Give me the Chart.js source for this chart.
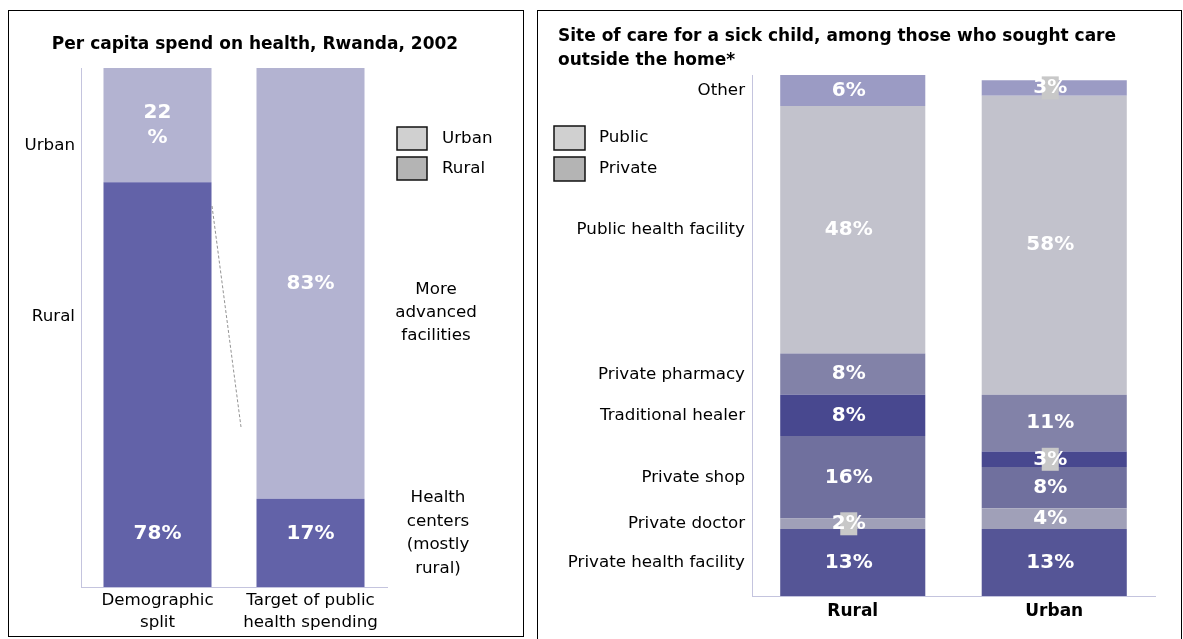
<!DOCTYPE html>
<html>
<head>
<meta charset="utf-8">
<title>Rwanda health spending and site of care</title>
<script src="https://cdn.jsdelivr.net/npm/chart.js@4.4.1/dist/chart.umd.min.js"></script>
<style>
  body { margin: 0; background: #fff; width: 1183px; height: 639px; overflow: hidden; position: relative; }
  .panel { position: absolute; border: 1px solid #000; box-sizing: border-box; }
  #spendPanel { left: 8px; top: 10px; width: 516px; height: 627px; }
  #carePanel { left: 537px; top: 10px; width: 645px; height: 640px; }
  .panel canvas { position: absolute; left: 0; top: 0; }
</style>
</head>
<body>
<div class="panel" id="spendPanel"><canvas id="spendChart" width="514" height="625"></canvas></div>
<div class="panel" id="carePanel"><canvas id="careChart" width="643" height="628"></canvas></div>
<script>
// per capita spend: population split vs. where public money goes
const sides = ['Demographic split', 'Target of public health spending'];
const sideLines = [['Demographic', 'split'], ['Target of public', 'health spending']];
const urbanShare = [22, 83];
const ruralShare = [78, 17];

// where a sick child was taken, stacked bottom to top
const areas = ['Rural', 'Urban'];
const careSites = ['Private health facility', 'Private doctor', 'Private shop', 'Traditional healer',
  'Private pharmacy', 'Public health facility', 'Other'];
const ruralCare = [13, 2, 16, 8, 8, 48, 6];
const urbanCare = [13, 4, 8, 3, 11, 58, 3];

const FONT = '"DejaVu Sans", Verdana, sans-serif';
const axisColor = '#c4c4de';
const careColors = ['#555596', '#a0a0b8', '#70709e', '#48488f', '#8282a8', '#c2c2cc', '#9b9bc4'];

function hiddenAxis(extra) {
  return Object.assign({
    stacked: true,
    ticks: { display: false },
    grid: { display: false, drawTicks: false },
    border: { color: axisColor, width: 1 }
  }, extra || {});
}

function legendBox(ctx, x, y, w, h, fill, text, tx) {
  ctx.fillStyle = fill;
  ctx.fillRect(x, y, w, h);
  ctx.lineWidth = 1.5;
  ctx.strokeStyle = '#111';
  ctx.strokeRect(x, y, w, h);
  ctx.fillStyle = '#000';
  ctx.textAlign = 'left';
  ctx.textBaseline = 'middle';
  ctx.fillText(text, tx, y + h / 2);
}

function centredLines(ctx, lines, x, y, step) {
  lines.forEach((t, k) => ctx.fillText(t, x, y + k * step));
}

// ---------- left: per capita spend ----------
const spendText = {
  id: 'spendText',
  afterDatasetsDraw(chart) {
    const ctx = chart.ctx;
    ctx.save();
    ctx.textAlign = 'center';
    ctx.textBaseline = 'middle';
    ctx.fillStyle = '#fff';
    ctx.font = 'bold 20px ' + FONT;
    chart.data.datasets.forEach((ds, di) => {
      chart.getDatasetMeta(di).data.forEach((bar, i) => {
        const v = ds.data[i];
        if (di === 1 && i === 0) {
          // narrow top segment: number and sign on two lines
          centredLines(ctx, [String(v), '%'], bar.x, (bar.y + bar.base) / 2 - 12, 25);
        } else if (di === 0) {
          ctx.fillText(v + '%', bar.x, bar.base - 53);
        } else {
          ctx.fillText(v + '%', bar.x, (bar.y + bar.base) / 2);
        }
      });
    });
    ctx.restore();
  },
  afterDraw(chart) {
    const ctx = chart.ctx;
    const xs = chart.scales.x;
    ctx.save();
    ctx.fillStyle = '#000';
    ctx.font = 'bold 17px ' + FONT;
    ctx.textAlign = 'center';
    ctx.textBaseline = 'middle';
    ctx.fillText('Per capita spend on health, Rwanda, 2002', 246, 34);

    ctx.font = '16.7px ' + FONT;
    ctx.textAlign = 'right';
    ctx.fillText('Urban', 66, 135);
    ctx.fillText('Rural', 66, 306);

    ctx.textAlign = 'center';
    sideLines.forEach((lines, i) => centredLines(ctx, lines, xs.getPixelForValue(i), 590, 22));
    centredLines(ctx, ['More', 'advanced', 'facilities'], 427, 279, 23);
    centredLines(ctx, ['Health', 'centers', '(mostly', 'rural)'], 429, 487, 23.5);

    legendBox(ctx, 388, 116, 30, 23, '#d0d0d0', 'Urban', 433);
    legendBox(ctx, 388, 146, 30, 23, '#b4b4b4', 'Rural', 433);

    // dashed guide from the rural block toward the spending bar
    ctx.strokeStyle = '#777';
    ctx.lineWidth = 0.8;
    ctx.setLineDash([3, 2]);
    ctx.beginPath();
    ctx.moveTo(203, 195);
    ctx.lineTo(232, 416);
    ctx.stroke();
    ctx.restore();
  }
};

new Chart(document.getElementById('spendChart'), {
  type: 'bar',
  data: {
    labels: sides,
    datasets: [
      { label: 'Rural', data: ruralShare, backgroundColor: '#6262a8' },
      { label: 'Urban', data: urbanShare, backgroundColor: '#b3b3d1' }
    ]
  },
  options: {
    responsive: false,
    animation: false,
    layout: { padding: { left: 72, right: 136, top: 57, bottom: 49 } },
    datasets: { bar: { categoryPercentage: 1, barPercentage: 0.706 } },
    scales: {
      x: hiddenAxis(),
      y: hiddenAxis({ min: 0, max: 100 })
    },
    plugins: { legend: { display: false }, tooltip: { enabled: false } }
  },
  plugins: [spendText]
});

// ---------- right: site of care ----------
const careTotal = Math.max(
  ruralCare.reduce((a, b) => a + b, 0),
  urbanCare.reduce((a, b) => a + b, 0)
);

const careText = {
  id: 'careText',
  afterDatasetsDraw(chart) {
    const ctx = chart.ctx;
    ctx.save();
    ctx.textAlign = 'center';
    ctx.textBaseline = 'middle';
    ctx.font = 'bold 20px ' + FONT;
    chart.data.datasets.forEach((ds, di) => {
      chart.getDatasetMeta(di).data.forEach((bar, i) => {
        const v = ds.data[i];
        const y = (bar.y + bar.base) / 2;
        const x = bar.x - 4;
        if (v <= 3) {
          ctx.fillStyle = '#c8c8c8';
          ctx.fillRect(x - 8.5, y - 11.5, 17, 23);
        }
        ctx.fillStyle = '#fff';
        ctx.fillText(v + '%', x, y);
      });
    });
    ctx.restore();
  },
  afterDraw(chart) {
    const ctx = chart.ctx;
    const xs = chart.scales.x;
    ctx.save();
    ctx.fillStyle = '#000';
    ctx.font = 'bold 17px ' + FONT;
    ctx.textAlign = 'left';
    ctx.textBaseline = 'middle';
    ctx.fillText('Site of care for a sick child, among those who sought care', 20, 26);
    ctx.fillText('outside the home*', 20, 50);

    ctx.textAlign = 'center';
    areas.forEach((a, i) => ctx.fillText(a, xs.getPixelForValue(i), 601));

    // site names sit beside the rural bar segments
    ctx.font = '16.7px ' + FONT;
    ctx.textAlign = 'right';
    careSites.forEach((site, di) => {
      const bar = chart.getDatasetMeta(di).data[0];
      ctx.fillText(site, 207, (bar.y + bar.base) / 2);
    });

    legendBox(ctx, 16, 115, 31, 24, '#d0d0d0', 'Public', 61);
    legendBox(ctx, 16, 146, 31, 24, '#b4b4b4', 'Private', 61);
    ctx.restore();
  }
};

new Chart(document.getElementById('careChart'), {
  type: 'bar',
  data: {
    labels: areas,
    datasets: careSites.map((site, i) => ({
      label: site,
      data: [ruralCare[i], urbanCare[i]],
      backgroundColor: careColors[i]
    }))
  },
  options: {
    responsive: false,
    animation: false,
    layout: { padding: { left: 214, right: 26, top: 64, bottom: 43 } },
    datasets: { bar: { categoryPercentage: 1, barPercentage: 0.72 } },
    scales: {
      x: hiddenAxis(),
      y: hiddenAxis({ min: 0, max: careTotal })
    },
    plugins: { legend: { display: false }, tooltip: { enabled: false } }
  },
  plugins: [careText]
});
</script>
</body>
</html>
